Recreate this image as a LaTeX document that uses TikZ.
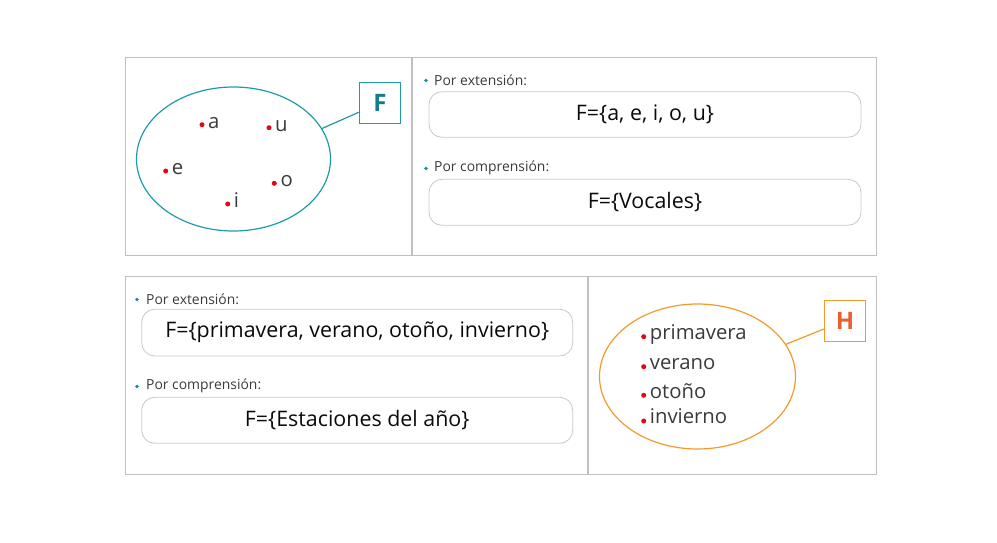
\documentclass[tikz,border=0pt]{standalone}
\usepackage{fontspec}
\setmainfont{Open Sans}
\usetikzlibrary{shapes.geometric,calc}
\definecolor{teal1}{HTML}{1E9BA8}
\definecolor{tealdark}{HTML}{137B8C}
\definecolor{orange1}{HTML}{F39A2B}
\definecolor{orangetext}{HTML}{E8612C}
\definecolor{reddot}{HTML}{E30613}
\definecolor{grayline}{HTML}{C0C0C0}
\definecolor{boxgray}{HTML}{C8C8C8}
\definecolor{txt}{HTML}{0A0A0A}
\definecolor{lbl}{HTML}{3A3A3A}
\definecolor{bulc}{HTML}{1A8A9E}
\begin{document}
\begin{tikzpicture}[x=1pt,y=-1pt,
  panel/.style={draw=grayline, line width=1pt},
  divider/.style={draw=grayline, line width=2pt},
  setbox/.style={draw=boxgray, line width=0.8pt, rounded corners=13pt, minimum width=431pt, minimum height=46pt, inner sep=0pt, font=\fontsize{21.4}{25}\selectfont, text=txt},
  lbltext/.style={anchor=west, inner sep=0pt, text=lbl, font=\fontsize{13.9}{16}\selectfont},
  bul/.style={circle, fill=bulc, inner sep=0pt, minimum size=3.6pt},
  rdot/.style={circle, fill=reddot, inner sep=0pt, minimum size=5pt},
  elem/.style={anchor=base west, inner sep=0pt, text=lbl, font=\fontsize{20.3}{24}\selectfont},
  tagbox/.style={draw=#1, line width=1.2pt, minimum size=41pt, inner sep=0pt, font=\bfseries\fontsize{24}{28}\selectfont},
  setell/.style={ellipse, draw=#1, line width=1.2pt, inner sep=0pt},
  conn/.style={draw=#1, line width=1.2pt}
]
\useasboundingbox (0,0) rectangle (997,543);

% ---------- top panel ----------
\draw[panel] (125,58) rectangle (876,255);
\draw[divider] (412,58) -- (412,255);

\node[setell=teal1, minimum width=194pt, minimum height=144pt] (E1) at (233.5,159) {};
\node[tagbox=teal1, text=tealdark] (F) at (380,102.7) {F};
\draw[conn=teal1] (E1.19) -- ([yshift=-9.5pt]F.west);

\node[rdot] (da) at (202,124.7) {};
\node[elem] (ta) at ([xshift=6pt,yshift=-3.6pt]da.center) {a};
\node[rdot] (du) at (269,127.7) {};
\node[elem] (tu) at ([xshift=6pt,yshift=-3.4pt]du.center) {u};
\node[rdot] (de) at (165.7,171) {};
\node[elem] (te) at ([xshift=6pt,yshift=-3.4pt]de.center) {e};
\node[rdot] (do) at (274.3,183.3) {};
\node[elem] (to) at ([xshift=6pt,yshift=-3.4pt]do.center) {o};
\node[rdot] (di) at (227.7,204) {};
\node[elem] (ti) at ([xshift=6pt,yshift=-3.4pt]di.center) {i};

\node[bul] (b1) at (426,80.5) {};
\node[lbltext] (l1) at (434,80) {Por extensión:};
\node[setbox, minimum width=432pt, minimum height=45.6pt] (fe) at (645,114.5) {F=\{a, e, i, o, u\}};
\node[bul] (b2) at (426,168.5) {};
\node[lbltext] (l2) at (434,168) {Por comprensión:};
\node[setbox, minimum width=432pt, minimum height=46pt] (fc) at (645,202.3) {F=\{Vocales\}};

% ---------- bottom panel ----------
\draw[panel] (125,276.5) rectangle (876,474);
\draw[divider] (588,276.5) -- (588,474);

\node[bul] (b3) at (137,299.5) {};
\node[lbltext] (l3) at (146,299) {Por extensión:};
\node[setbox, minimum height=46.7pt] (he) at (357.2,332.6) {F=\{primavera, verano, otoño, invierno\}};
\node[bul] (b4) at (137,386.5) {};
\node[lbltext] (l4) at (146,386) {Por comprensión:};
\node[setbox, minimum height=46pt] (hc) at (357.2,420.3) {F=\{Estaciones del año\}};

\node[setell=orange1, minimum width=196pt, minimum height=145pt] (E2) at (697.5,376.5) {};
\node[tagbox=orange1, text=orangetext] (H) at (845,321.2) {H};
\draw[conn=orange1] (E2.20) -- ([yshift=-7.8pt]H.west);

\node[rdot] (dp) at (643.7,336.7) {};
\node[elem] (tp) at ([xshift=6pt,yshift=-2.8pt]dp.center) {primavera};
\node[rdot] (dv) at (643.7,366.7) {};
\node[elem] (tv) at ([xshift=6pt,yshift=-2.8pt]dv.center) {verano};
\node[rdot] (dt) at (643.7,395.3) {};
\node[elem] (tt) at ([xshift=6pt,yshift=-2.8pt]dt.center) {otoño};
\node[rdot] (dn) at (643.7,421) {};
\node[elem] (tn) at ([xshift=6pt,yshift=-2.8pt]dn.center) {invierno};
\end{tikzpicture}
\end{document}
